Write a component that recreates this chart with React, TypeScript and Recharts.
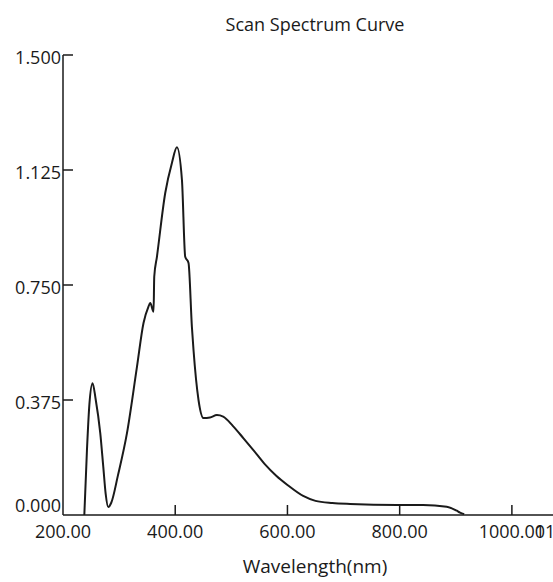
import { LineChart, Line, XAxis, YAxis } from 'recharts';

const wavelengths = [
  238, 242.7, 247, 252.7, 258, 266.4, 271.8, 276, 280.7, 286, 298, 314, 331.8, 343.5, 352, 355.5,
  361.4, 362.6, 367.4, 382.2, 394.1, 403, 412, 417.8, 423.7, 429.7, 432.6, 441.5, 450.4, 462,
  474.3, 485.5, 503, 521.7, 540, 560, 580, 600, 628, 650, 680, 711.7, 794.9, 841.7, 883.9,
  901.7, 907.6, 915
];
const absorbance = [
  0, 0.212, 0.36, 0.43, 0.38, 0.267, 0.157, 0.07, 0.026, 0.04, 0.13, 0.267, 0.483, 0.626, 0.678, 0.691,
  0.663, 0.777, 0.842, 1.05, 1.148, 1.199, 1.092, 0.842, 0.822, 0.614, 0.538, 0.375, 0.316, 0.318,
  0.326, 0.321, 0.29, 0.25, 0.21, 0.165, 0.128, 0.098, 0.062, 0.046, 0.039, 0.036, 0.033, 0.033, 0.027,
  0.014, 0.008, 0.003
];

const xTicks = [200, 400, 600, 800, 1000, 1100];
const yTicks = [0, 0.375, 0.75, 1.125, 1.5];

const data = wavelengths.map((wl, i) => ({ wl, a: absorbance[i] }));

const font = '"Open Sans", sans-serif';
const ink = '#1a1a1a';

function XTick(props: any) {
  const { x, y, payload } = props;
  const v = payload.value as number;
  return (
    <g>
      {v !== 200 && <line x1={x} y1={y} x2={x} y2={y - 10} stroke={ink} strokeWidth={1.5} />}
      <text x={x} y={y + 23} textAnchor="middle" fontFamily={font} fontSize={18} fill={ink}>
        {v.toFixed(2)}
      </text>
    </g>
  );
}

function YTick(props: any) {
  const { x, y, payload } = props;
  const v = payload.value as number;
  return (
    <g>
      {v !== 0 && <line x1={x} y1={y} x2={x + 10} y2={y} stroke={ink} strokeWidth={1.5} />}
      <text x={x - 2} y={v === 0 ? y - 3 : y + 9} textAnchor="end" fontFamily={font} fontSize={18} fill={ink}>
        {v.toFixed(3)}
      </text>
    </g>
  );
}

export default function App() {
  return (
    <div style={{ position: 'absolute', left: 0, top: 0, width: 553, height: 582, overflow: 'hidden', background: '#fff' }}>
      <div
        style={{
          position: 'absolute', left: 215, top: 12, width: 200, textAlign: 'center',
          fontFamily: font, fontSize: 18, color: ink, whiteSpace: 'nowrap'
        }}
      >
        Scan Spectrum Curve
      </div>
      <LineChart width={620} height={582} data={data} margin={{ top: 55, right: 52, bottom: 37, left: 0 }}>
        <XAxis
          type="number"
          dataKey="wl"
          domain={[200, 1100]}
          ticks={xTicks}
          interval={0}
          height={30}
          tickSize={0}
          tickMargin={0}
          tickLine={false}
          axisLine={{ stroke: ink, strokeWidth: 1.5 }}
          tick={<XTick />}
          allowDataOverflow
        />
        <YAxis
          type="number"
          domain={[0, 1.5]}
          ticks={yTicks}
          interval={0}
          width={63}
          tickSize={0}
          tickMargin={0}
          tickLine={false}
          axisLine={{ stroke: ink, strokeWidth: 1.5 }}
          tick={<YTick />}
        />
        <Line
          type="monotone"
          dataKey="a"
          stroke={ink}
          strokeWidth={2}
          dot={false}
          isAnimationActive={false}
        />
      </LineChart>
      <div
        style={{
          position: 'absolute', left: 215, top: 553, width: 200, textAlign: 'center',
          fontFamily: font, fontSize: 19, color: ink, whiteSpace: 'nowrap'
        }}
      >
        Wavelength(nm)
      </div>
    </div>
  );
}
